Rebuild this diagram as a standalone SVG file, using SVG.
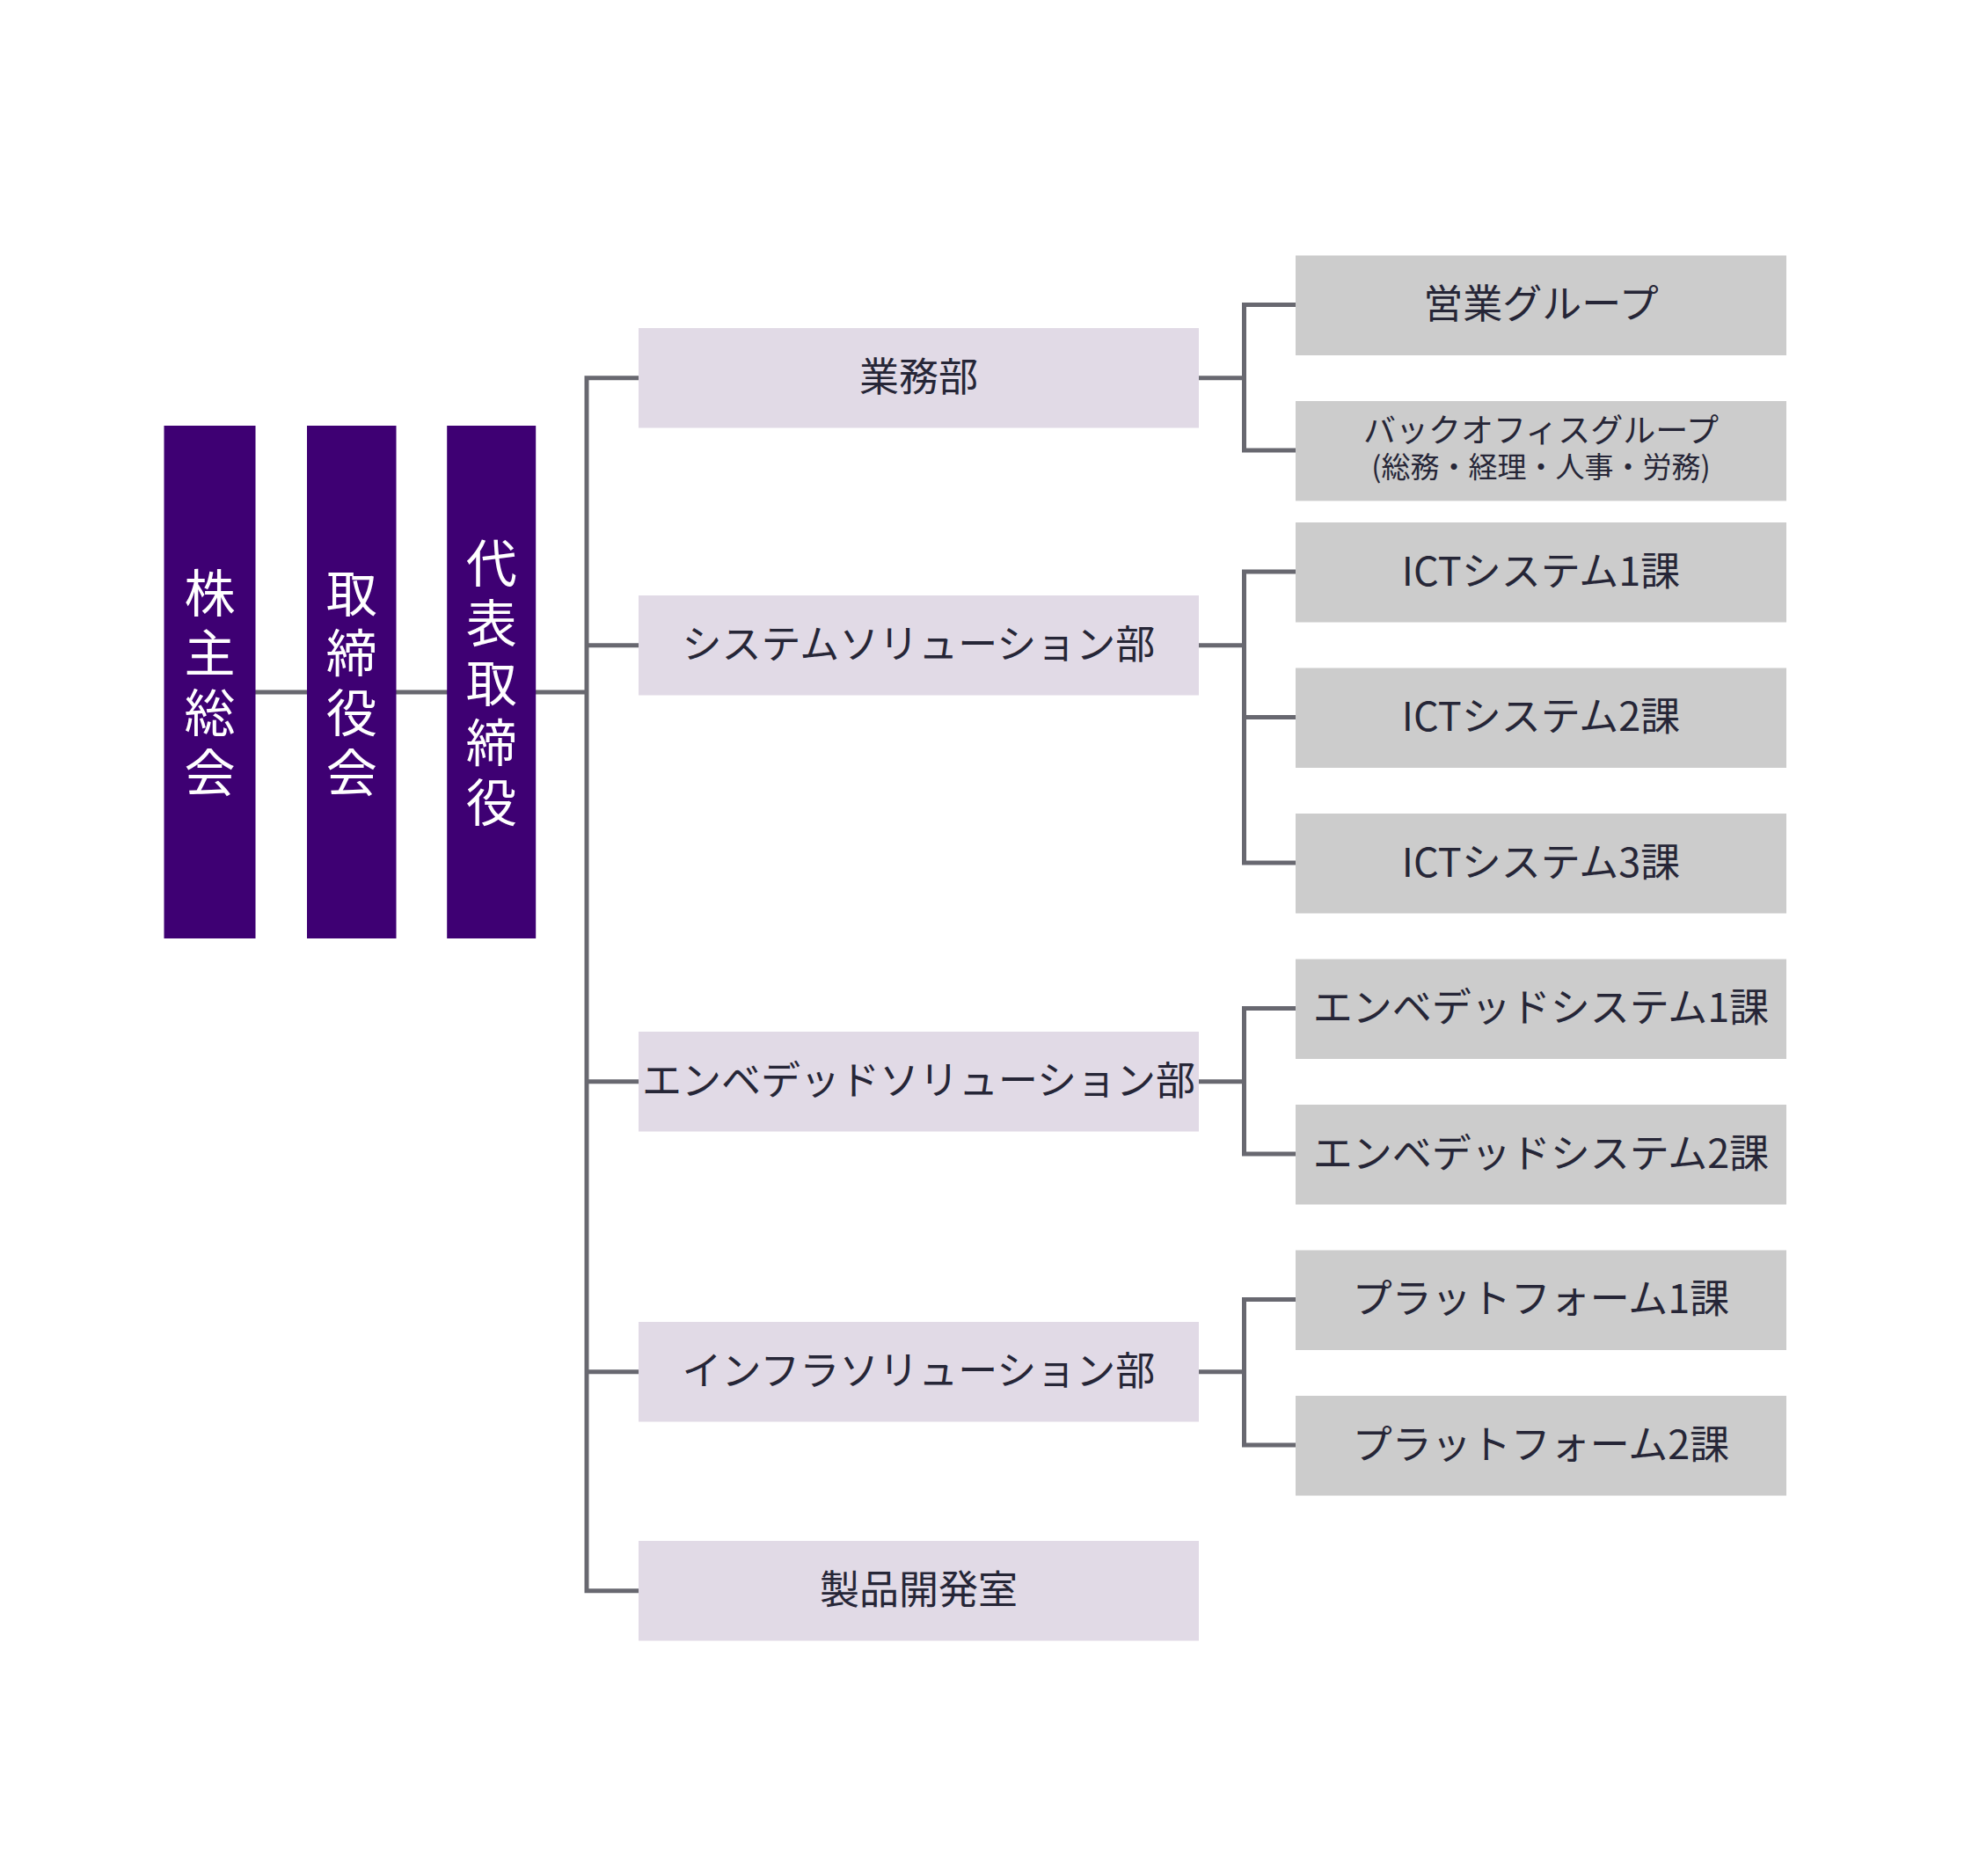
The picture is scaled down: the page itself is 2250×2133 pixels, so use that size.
<svg xmlns="http://www.w3.org/2000/svg" width="2250" height="2133" viewBox="0 0 2250 2133">
<style>
.bar{fill:#3E0073}
.dept{fill:#E1DAE6}
.grp{fill:#CCCCCC}
.vt{font-family:"Noto Sans CJK JP","Noto Sans CJK SC",sans-serif;font-size:58px;fill:#FFFFFF;text-anchor:middle;writing-mode:vertical-rl;letter-spacing:10px}
.t{font-family:"Noto Sans CJK JP","Noto Sans CJK SC",sans-serif;font-size:45px;fill:#262637;text-anchor:middle}
.ts{font-family:"Noto Sans CJK JP","Noto Sans CJK SC",sans-serif;font-size:37px;fill:#262637;text-anchor:middle}
.ln{fill:none;stroke:#686870;stroke-width:5;stroke-linejoin:miter}
</style>
<rect width="2250" height="2133" fill="#FFFFFF"/>
<g id="connectors">
<path class="ln" d="M289,787 H351"/>
<path class="ln" d="M448,787 H510"/>
<path class="ln" d="M607,787 H667"/>
<path class="ln" d="M729,429.75 H667 V1808.75 H729"/>
<path class="ln" d="M667,733.75 H729"/>
<path class="ln" d="M667,1229.75 H729"/>
<path class="ln" d="M667,1559.75 H729"/>
<path class="ln" d="M1360,429.75 H1414.5"/>
<path class="ln" d="M1476,346.5 H1414.5 V512 H1476"/>
<path class="ln" d="M1360,733.75 H1414.5"/>
<path class="ln" d="M1476,650 H1414.5 V981 H1476"/>
<path class="ln" d="M1414.5,815.5 H1476"/>
<path class="ln" d="M1360,1229.75 H1414.5"/>
<path class="ln" d="M1476,1146.5 H1414.5 V1312 H1476"/>
<path class="ln" d="M1360,1559.75 H1414.5"/>
<path class="ln" d="M1476,1477.5 H1414.5 V1643 H1476"/>
</g>
<g id="kabunushi-sokai">
<rect class="bar" x="186.5" y="484" width="104" height="583"/>
<text class="vt" x="238.5" y="780.5">株主総会</text>
</g>
<g id="torishimariyakukai">
<rect class="bar" x="349" y="484" width="101.5" height="583"/>
<text class="vt" x="399.7" y="780.5">取締役会</text>
</g>
<g id="daihyo-torishimariyaku">
<rect class="bar" x="508.2" y="484" width="101" height="583"/>
<text class="vt" x="558.7" y="780.5">代表取締役</text>
</g>
<g id="gyomubu">
<rect class="dept" x="726" y="373" width="637" height="113.5"/>
<text class="t" x="1044.5" y="444.75">業務部</text>
</g>
<g id="system-solution">
<rect class="dept" x="726" y="677" width="637" height="113.5"/>
<text class="t" x="1044.5" y="748.75">システムソリューション部</text>
</g>
<g id="embedded-solution">
<rect class="dept" x="726" y="1173" width="637" height="113.5"/>
<text class="t" x="1044.5" y="1244.75">エンベデッドソリューション部</text>
</g>
<g id="infra-solution">
<rect class="dept" x="726" y="1503" width="637" height="113.5"/>
<text class="t" x="1044.5" y="1574.75">インフラソリューション部</text>
</g>
<g id="seihin-kaihatsu">
<rect class="dept" x="726" y="1752" width="637" height="113.5"/>
<text class="t" x="1044.5" y="1823.75">製品開発室</text>
</g>
<g id="eigyo-group">
<rect class="grp" x="1473" y="290.5" width="558" height="113.5"/>
<text class="t" x="1752" y="362.25">営業グループ</text>
</g>
<g id="backoffice-group">
<rect class="grp" x="1473" y="456" width="558" height="113.5"/>
<text class="ts"><tspan x="1752" y="503">バックオフィスグループ</tspan><tspan x="1752" y="543" font-size="33">(総務・経理・人事・労務)</tspan></text>
</g>
<g id="ict1">
<rect class="grp" x="1473" y="594" width="558" height="113.5"/>
<text class="t" x="1752" y="665.75">ICTシステム1課</text>
</g>
<g id="ict2">
<rect class="grp" x="1473" y="759.5" width="558" height="113.5"/>
<text class="t" x="1752" y="831.25">ICTシステム2課</text>
</g>
<g id="ict3">
<rect class="grp" x="1473" y="925" width="558" height="113.5"/>
<text class="t" x="1752" y="996.75">ICTシステム3課</text>
</g>
<g id="embedded1">
<rect class="grp" x="1473" y="1090.5" width="558" height="113.5"/>
<text class="t" x="1752" y="1162.25">エンベデッドシステム1課</text>
</g>
<g id="embedded2">
<rect class="grp" x="1473" y="1256" width="558" height="113.5"/>
<text class="t" x="1752" y="1327.75">エンベデッドシステム2課</text>
</g>
<g id="platform1">
<rect class="grp" x="1473" y="1421.5" width="558" height="113.5"/>
<text class="t" x="1752" y="1493.25">プラットフォーム1課</text>
</g>
<g id="platform2">
<rect class="grp" x="1473" y="1587" width="558" height="113.5"/>
<text class="t" x="1752" y="1658.75">プラットフォーム2課</text>
</g>
</svg>
